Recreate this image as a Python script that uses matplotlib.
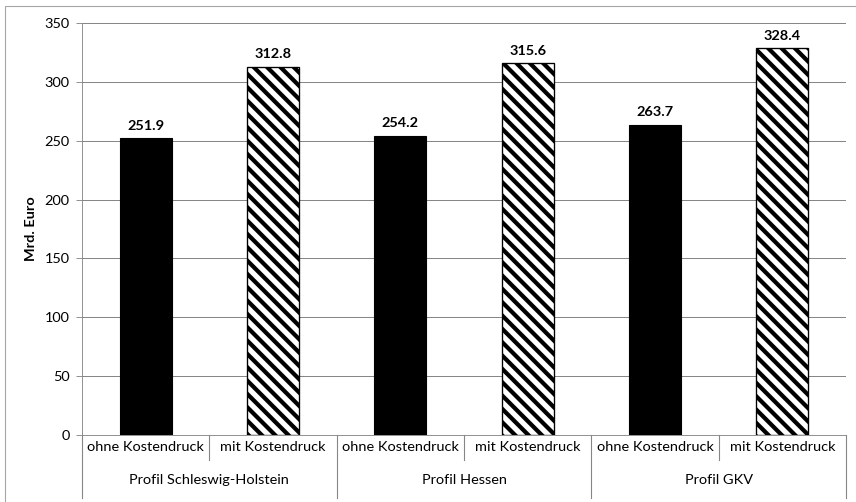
import matplotlib
matplotlib.use("Agg")
import matplotlib.pyplot as plt
from matplotlib.patches import Rectangle

# ---------------------------
# Data
# ---------------------------
profiles = ["Profil Schleswig-Holstein", "Profil Hessen", "Profil GKV"]
scenarios = ["ohne Kostendruck", "mit Kostendruck"]
ohne = [251.9, 254.2, 263.7]
mit = [312.8, 315.6, 328.4]
y_ticks = [0, 50, 100, 150, 200, 250, 300, 350]

plt.rcParams["font.family"] = ["Lato", "DejaVu Sans"]
plt.rcParams["hatch.linewidth"] = 3.8

DPI = 80
FS = 13
fig = plt.figure(figsize=(856 / DPI, 502 / DPI), dpi=DPI)
ax = fig.add_axes([82 / 856, 1 - 435 / 502, (846 - 82) / 856, (435 - 23) / 502])

grey = "#868686"
bar_w = 0.41

# ---------------------------
# Bars
# ---------------------------
x_ohne = [2 * i for i in range(len(profiles))]
x_mit = [2 * i + 1 for i in range(len(profiles))]
ax.bar(x_ohne, ohne, width=bar_w, color="black", edgecolor="black", zorder=3)
ax.bar(x_mit, mit, width=bar_w, color="white", edgecolor="black",
       hatch="\\\\", linewidth=1.2, zorder=3)

for x, v in zip(x_ohne + x_mit, ohne + mit):
    ax.annotate(f"{v:.1f}", (x, v), xytext=(0, 6), textcoords="offset points",
                ha="center", va="bottom", fontsize=FS, fontweight="bold")

# ---------------------------
# Axes styling
# ---------------------------
ax.set_xlim(-0.5, 5.5)
ax.set_ylim(0, 350)
ax.set_yticks(y_ticks)
ax.yaxis.grid(True, color=grey, linewidth=0.9)
ax.set_axisbelow(True)
ax.tick_params(axis="y", length=5, color=grey, labelsize=FS, pad=6)
ax.set_xticks([])
for s in ["top", "right"]:
    ax.spines[s].set_visible(False)
ax.spines["left"].set_color(grey)
ax.spines["bottom"].set_color(grey)
ax.set_ylabel("Mrd. Euro", fontsize=FS, fontweight="bold", labelpad=7)

# two-level category axis
tr = ax.get_xaxis_transform()
for i in range(7):
    xb = i - 0.5
    y_end = -0.152 if i % 2 == 0 else -0.061
    ax.plot([xb, xb], [0, y_end], color=grey, linewidth=1, transform=tr,
            clip_on=False)
for i in range(6):
    ax.text(i, -0.030, scenarios[i % 2], transform=tr, ha="center",
            va="center", fontsize=FS)
for j, p in enumerate(profiles):
    ax.text(2 * j + 0.5, -0.110, p, transform=tr, ha="center", va="center",
            fontsize=FS)

# outer chart frame
fig.patches.append(Rectangle((5 / 856, -0.1), 1.2, 1 - 6 / 502 + 0.1,
                             transform=fig.transFigure, fill=False,
                             edgecolor="#a6a6a6", linewidth=1))

fig.savefig("out.png", dpi=DPI)
